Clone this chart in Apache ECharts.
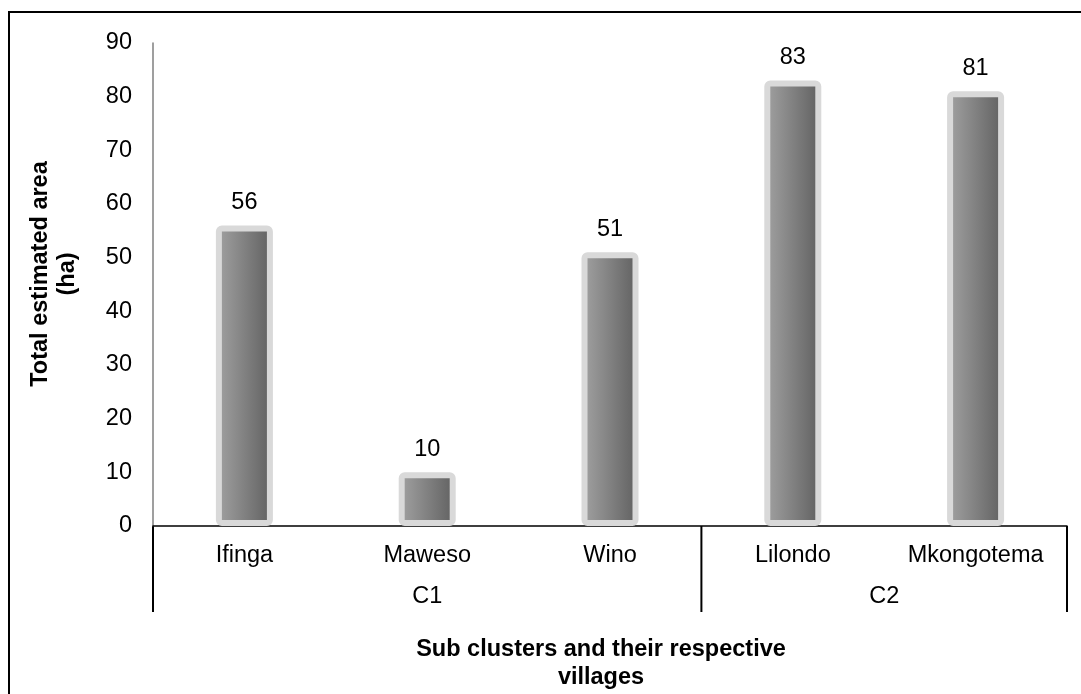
<!DOCTYPE html>
<html>
<head>
<meta charset="utf-8">
<script src="https://cdn.jsdelivr.net/npm/echarts@6/dist/echarts.min.js"></script>
<style>
  html, body { margin: 0; padding: 0; background: #fff; }
  #chart { width: 1081px; height: 694px; }
</style>
</head>
<body>
<div id="chart"></div>
<script>
// Villages, their sub-cluster grouping and estimated area (ha)
const villages = ['Ifinga', 'Maweso', 'Wino', 'Lilondo', 'Mkongotema'];
const clusters = ['C1', 'C1', 'C1', 'C2', 'C2'];
const areaHa = [56, 10, 51, 83, 81];
const yTicks = { min: 0, max: 90, interval: 10 };

const FONT = '"Liberation Sans", Arial, sans-serif';
const FS = 23.5;
const chart = echarts.init(document.getElementById('chart'), null, { renderer: 'canvas' });

const barFill = new echarts.graphic.LinearGradient(0, 0, 1, 0, [
  { offset: 0, color: '#a3a3a3' },
  { offset: 1, color: '#5f5f5f' }
]);

chart.setOption({
  animation: false,
  backgroundColor: '#ffffff',
  grid: { left: 153, right: 14, top: 43, bottom: 168, containLabel: false },
  xAxis: {
    type: 'category',
    data: villages,
    axisLine: { lineStyle: { color: '#000', width: 1.5 } },
    axisTick: { show: false },
    axisLabel: { color: '#000', fontFamily: FONT, fontSize: FS, margin: 18 }
  },
  yAxis: {
    type: 'value',
    min: yTicks.min, max: yTicks.max, interval: yTicks.interval,
    axisLine: { show: true, lineStyle: { color: '#7f7f7f', width: 1.5 } },
    axisTick: { show: false },
    splitLine: { show: false },
    axisLabel: { color: '#000', fontFamily: FONT, fontSize: FS, margin: 21 }
  },
  series: [{
    type: 'bar',
    data: areaHa,
    barWidth: 57,
    itemStyle: {
      color: barFill,
      borderColor: '#d9d9d9',
      borderWidth: 6,
      borderRadius: 3
    },
    label: {
      show: true,
      position: 'top',
      distance: 11,
      color: '#000',
      fontFamily: FONT,
      fontSize: FS
    }
  }]
});

// Hierarchical category frame, cluster labels and titles
const y0 = chart.convertToPixel({ yAxisIndex: 0 }, 0);
const half = (chart.convertToPixel({ xAxisIndex: 0 }, villages[1]) -
              chart.convertToPixel({ xAxisIndex: 0 }, villages[0])) / 2;
const groupBottom = 612;
const elements = [];

// group spans from the cluster list
const groups = [];
clusters.forEach((c, i) => {
  const last = groups[groups.length - 1];
  if (last && last.name === c) last.end = i; else groups.push({ name: c, start: i, end: i });
});
const edge = (i) => chart.convertToPixel({ xAxisIndex: 0 }, villages[i]);
const xs = [edge(0) - half];
groups.forEach(g => xs.push(edge(g.end) + half));
xs.forEach(x => {
  elements.push({
    type: 'line', silent: true,
    shape: { x1: x, y1: y0, x2: x, y2: groupBottom },
    style: { stroke: '#000', lineWidth: 2 }
  });
});
groups.forEach(g => {
  const cx = (edge(g.start) + edge(g.end)) / 2;
  elements.push({
    type: 'text', silent: true,
    x: cx, y: 597,
    style: { text: g.name, fill: '#000', font: FS + 'px ' + FONT, align: 'center', verticalAlign: 'middle' }
  });
});

// outer frame
elements.push({
  type: 'rect', silent: true,
  shape: { x: 9, y: 12, width: 1200, height: 800 },
  style: { fill: null, stroke: '#000', lineWidth: 2 }
});

// axis titles
elements.push({
  type: 'text', silent: true,
  x: 54, y: 274, rotation: Math.PI / 2,
  style: {
    text: 'Total estimated area\n(ha)', fill: '#000',
    font: 'bold ' + FS + 'px ' + FONT, align: 'center', verticalAlign: 'middle', lineHeight: 27
  }
});
elements.push({
  type: 'text', silent: true,
  x: 601, y: 664,
  style: {
    text: 'Sub clusters and their respective\nvillages', fill: '#000',
    font: 'bold ' + FS + 'px ' + FONT, align: 'center', verticalAlign: 'middle', lineHeight: 28
  }
});

chart.setOption({ graphic: { elements } });
</script>
</body>
</html>
